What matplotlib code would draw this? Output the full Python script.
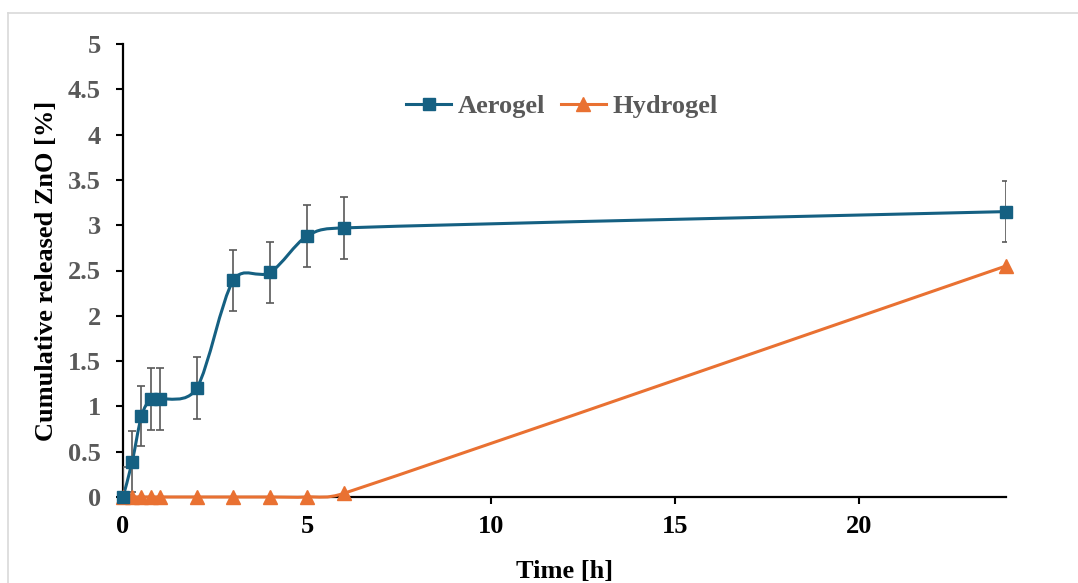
import numpy as np
import matplotlib
matplotlib.use("Agg")
import matplotlib.pyplot as plt
from matplotlib.path import Path
from matplotlib.patches import PathPatch
from matplotlib.lines import Line2D

# ---- data ----
time_aero = [0, 0.25, 0.5, 0.75, 1, 2, 3, 4, 5, 6, 24]
aerogel = [0, 0.39, 0.89, 1.08, 1.08, 1.20, 2.39, 2.48, 2.88, 2.97, 3.15]
aerogel_err = [0.33, 0.34, 0.33, 0.34, 0.34, 0.34, 0.34, 0.34, 0.34, 0.34, 0.34]
time_hydro = [0, 0.25, 0.5, 0.75, 1, 2, 3, 4, 5, 6, 24]
hydrogel = [0, 0, 0, 0, 0, 0, 0, 0, 0, 0.04, 2.55]
xticks = [0, 5, 10, 15, 20]
yticks = [0, 0.5, 1, 1.5, 2, 2.5, 3, 3.5, 4, 4.5, 5]
ytick_labels = ["0", "0.5", "1", "1.5", "2", "2.5", "3", "3.5", "4", "4.5", "5"]

C_AERO = "#156082"
C_HYDRO = "#E97132"
GRAY = "#595959"

plt.rcParams['font.family'] = ['Liberation Serif', 'DejaVu Serif']
plt.rcParams['font.weight'] = 'bold'

W, H = 1078, 583
fig = plt.figure(figsize=(W / 100, H / 100), dpi=100)
ax = fig.add_axes([123 / W, 1 - 497 / H, (1006 - 123) / W, (497 - 44) / H])
ax.set_xlim(0, 24)
ax.set_ylim(0, 5)

# pixel scale of the data axes (smoothing done in screen-like space, like Excel)
SX = (1006 - 123) / 24.0
SY = (497 - 44) / 5.0


def smooth_path(xs, ys):
    pts = np.column_stack([np.asarray(xs, float) * SX, np.asarray(ys, float) * SY])
    n = len(pts)
    verts = [pts[0]]
    codes = [Path.MOVETO]
    for i in range(n - 1):
        p0 = pts[i - 1] if i > 0 else pts[i]
        p1 = pts[i]
        p2 = pts[i + 1]
        p3 = pts[i + 2] if i + 2 < n else pts[i + 1]
        d12 = np.hypot(*(p2 - p1))
        o1 = (p2 - p0) / 6.0
        o2 = (p3 - p1) / 6.0
        l1 = np.hypot(*o1)
        l2 = np.hypot(*o2)
        if l1 > d12 / 2 and l1 > 0:
            o1 = o1 * (d12 / 2) / l1
        if l2 > d12 / 2 and l2 > 0:
            o2 = o2 * (d12 / 2) / l2
        verts += [p1 + o1, p2 - o2, p2]
        codes += [Path.CURVE4] * 3
    verts = np.array(verts)
    verts[:, 0] /= SX
    verts[:, 1] /= SY
    return Path(verts, codes)


# frame lines of the figure
fig.add_artist(Line2D([8 / W, 8 / W], [0, 1 - 13 / H], transform=fig.transFigure,
                      color="#D9D9D9", lw=1.2))
fig.add_artist(Line2D([8 / W, 1], [1 - 13 / H, 1 - 13 / H], transform=fig.transFigure,
                      color="#D9D9D9", lw=1.2))

# smooth lines
ax.add_patch(PathPatch(smooth_path(time_hydro, hydrogel), fill=False, edgecolor=C_HYDRO,
                       lw=2.2, zorder=3, clip_on=False))
ax.add_patch(PathPatch(smooth_path(time_aero, aerogel), fill=False, edgecolor=C_AERO,
                       lw=2.2, zorder=4, clip_on=False))

ax.errorbar(time_aero, aerogel, yerr=aerogel_err, fmt="none", ecolor=GRAY, elinewidth=1.2,
            capsize=3, capthick=1.2, zorder=5)

ax.plot(time_hydro, hydrogel, linestyle="none", marker="^", markersize=9.5, color=C_HYDRO,
        zorder=6, clip_on=False)
ax.plot(time_aero, aerogel, linestyle="none", marker="s", markersize=9, color=C_AERO,
        zorder=7, clip_on=False)

# legend
h1 = Line2D([], [], color=C_AERO, lw=2.2, marker="s", markersize=9)
h2 = Line2D([], [], color=C_HYDRO, lw=2.2, marker="^", markersize=9.5)
leg = ax.legend([h1, h2], ["Aerogel", "Hydrogel"], ncol=2, frameon=False,
                loc="center", bbox_to_anchor=(562 / W, 1 - 106 / H),
                bbox_transform=fig.transFigure, handlelength=1.7,
                handletextpad=0.25, columnspacing=0.6,
                prop={'family': ['Liberation Serif'], 'weight': 'bold', 'size': 19})
for t in leg.get_texts():
    t.set_color(GRAY)

for s in ["top", "right"]:
    ax.spines[s].set_visible(False)
for s in ["left", "bottom"]:
    ax.spines[s].set_linewidth(1.6)
    ax.spines[s].set_color("black")

ax.set_xticks(xticks)
ax.set_xticklabels([str(v) for v in xticks])
ax.set_yticks(yticks)
ax.set_yticklabels(ytick_labels)
ax.tick_params(axis="y", direction="out", length=5, width=1.5, pad=11, labelsize=19,
               labelcolor=GRAY, colors="black")
ax.tick_params(axis="x", direction="out", length=5, width=1.5, pad=8, labelsize=19,
               colors="black")
for lab in ax.get_yticklabels() + ax.get_xticklabels():
    lab.set_fontweight("bold")
ax.tick_params(axis="y", labelcolor=GRAY)

ax.set_xlabel("Time [h]", fontsize=19, fontweight="bold", labelpad=16)
ax.set_ylabel("Cumulative released ZnO [%]", fontsize=19, fontweight="bold", labelpad=7)

fig.savefig("out.png", dpi=100)
